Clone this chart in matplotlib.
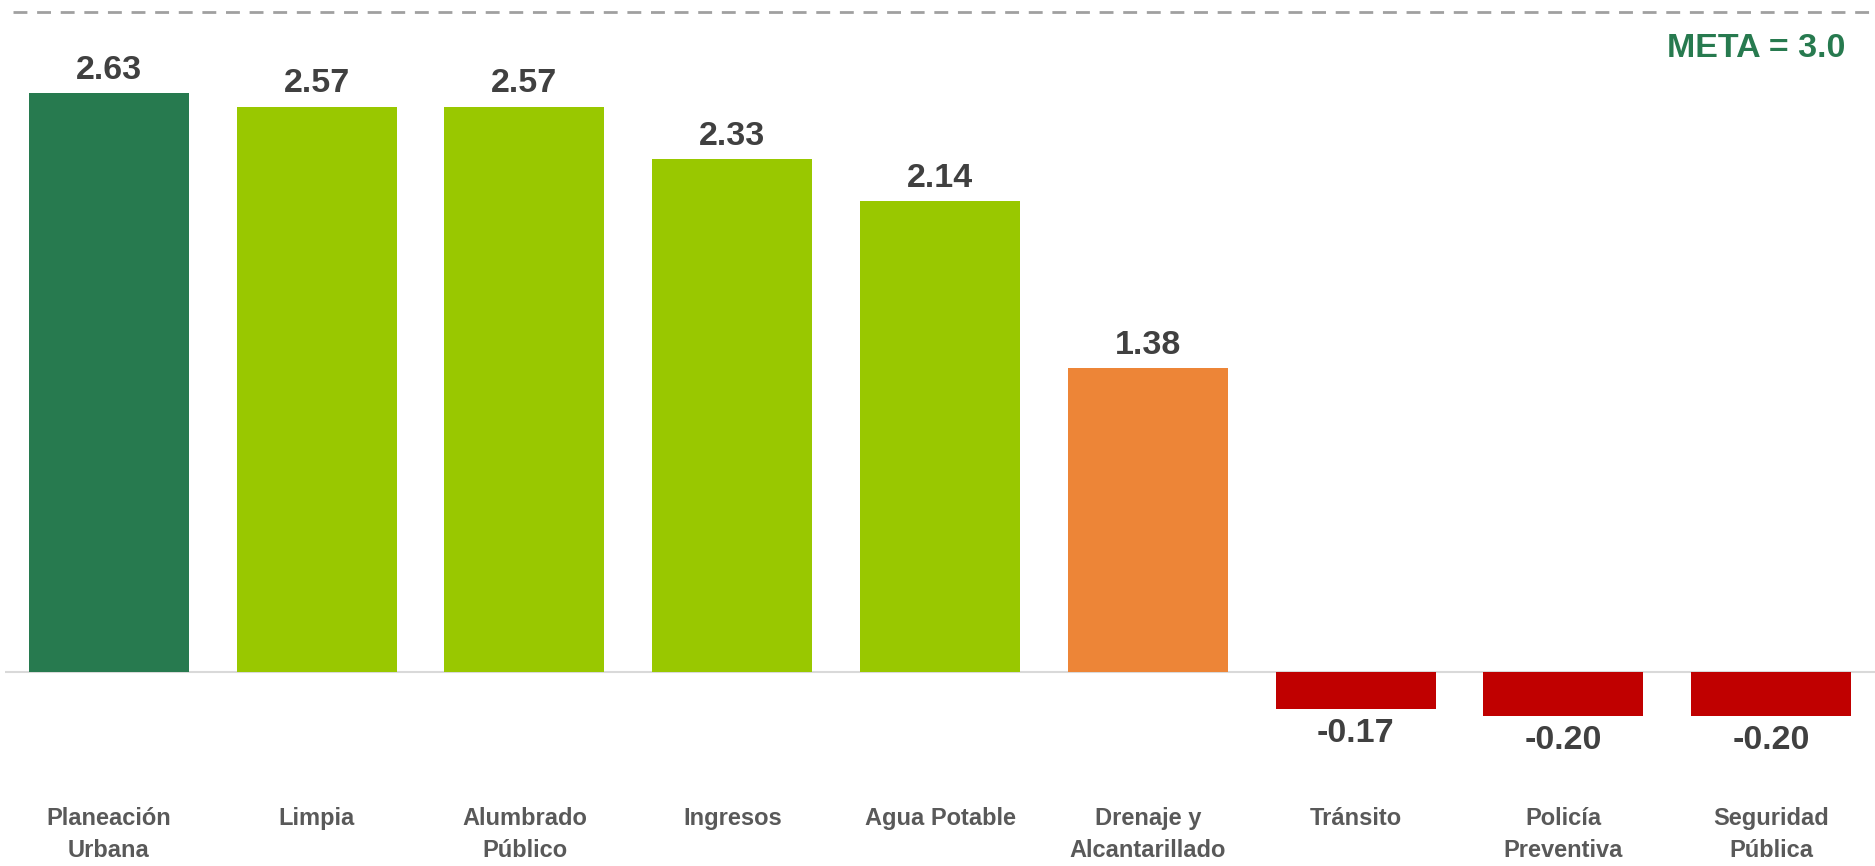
from matplotlib import pyplot as plt

# data
categories = ["Planeación\nUrbana", "Limpia", "Alumbrado\nPúblico", "Ingresos",
              "Agua Potable", "Drenaje y\nAlcantarillado", "Tránsito",
              "Policía\nPreventiva", "Seguridad\nPública"]
values = [2.63, 2.57, 2.57, 2.33, 2.14, 1.38, -0.17, -0.20, -0.20]
labels = ["2.63", "2.57", "2.57", "2.33", "2.14", "1.38", "-0.17", "-0.20", "-0.20"]
meta = 3.0

colors = ["#277A4F", "#99C800", "#99C800", "#99C800", "#99C800",
          "#ED8537", "#C00000", "#C00000", "#C00000"]

bold = ["Liberation Sans", "DejaVu Sans"]

fig = plt.figure(figsize=(18.75, 8.66), dpi=100)
ax = fig.add_axes([0.0027, 0.0, 0.9973, 1.0])

x = list(range(len(values)))
ax.bar(x, values, width=0.77, color=colors, zorder=2)
ax.set_xlim(-0.5, len(values) - 0.5)
ax.set_ylim(-0.882, 3.0545)

# zero line and target line
ax.axhline(0, color="#D9D9D9", lw=1.5, zorder=1)
ax.axhline(meta, xmin=0.004, color="#A0A0A0", lw=2, dashes=(5, 3.5), zorder=1)

for xi, v, lab in zip(x, values, labels):
    off = 16.5 if v >= 0 else -17.5
    ax.annotate(lab, (xi, v), xytext=(0, off), textcoords="offset points",
                ha="center", va="center", fontsize=24.5, fontweight="bold",
                color="#404040", family=bold)

for xi, cat in zip(x, categories):
    ax.text(xi, -0.615, cat, ha="center", va="top", fontsize=17,
            fontweight="bold", color="#595959", family=bold, linespacing=1.5)

ax.text(0.984, 0.944, "META = %.1f" % meta, transform=ax.transAxes, ha="right",
        va="center", fontsize=24.5, fontweight="bold", color="#277A4F", family=bold)

ax.axis("off")
plt.savefig("out.png", dpi=100)
